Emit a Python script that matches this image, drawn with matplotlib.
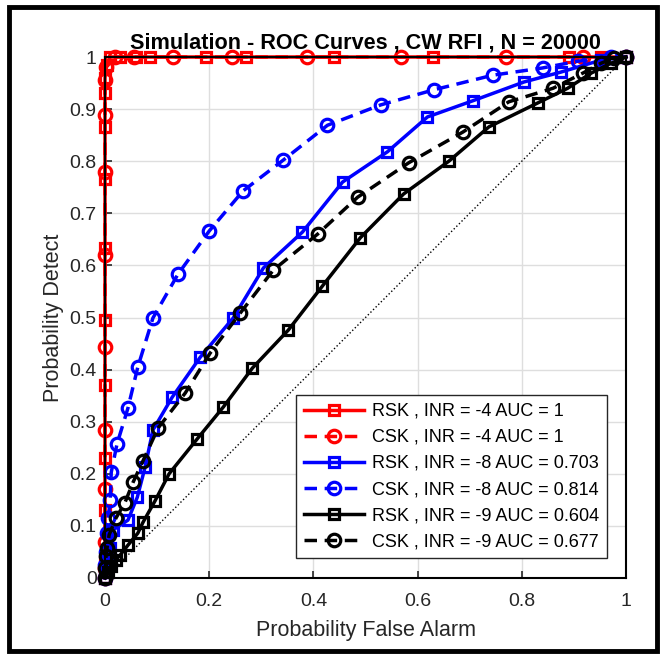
import matplotlib
matplotlib.use("Agg")
import matplotlib.pyplot as plt
from matplotlib.patches import Rectangle

plt.rcParams['font.family'] = ['Liberation Sans', 'DejaVu Sans']

title = "Simulation - ROC Curves , CW RFI , N = 20000"
xlabel = "Probability False Alarm"
ylabel = "Probability Detect"

labels = ["RSK , INR = -4 AUC = 1",
          "CSK , INR = -4 AUC = 1",
          "RSK , INR = -8 AUC = 0.703",
          "CSK , INR = -8 AUC = 0.814",
          "RSK , INR = -9 AUC = 0.604",
          "CSK , INR = -9 AUC = 0.677"]

# Red RSK (INR = -4)
rsk4_pfa = [0, 0, 0, 0, 0, 0, 0, 0, 0, 0, 0, 0.003, 0.01, 0.029, 0.06, 0.087, 0.194, 0.271, 0.44, 0.629, 0.89, 0.952, 1]
rsk4_pd  = [0, 0.03, 0.13, 0.23, 0.37, 0.495, 0.633, 0.765, 0.866, 0.93, 0.96, 0.985, 1, 1, 1, 1, 1, 1, 1, 1, 1, 1, 1]
# Red CSK (INR = -4)
csk4_pfa = [0, 0, 0, 0, 0, 0, 0, 0, 0, 0, 0.002, 0.02, 0.056, 0.131, 0.244, 0.388, 0.569, 0.769, 0.917, 1]
csk4_pd  = [0, 0.02, 0.07, 0.17, 0.284, 0.443, 0.62, 0.78, 0.889, 0.955, 0.98, 1, 1, 1, 1, 1, 1, 1, 1, 1]
# Blue RSK (INR = -8)
rsk8_pfa = [0, 0.002, 0.006, 0.01, 0.015, 0.044, 0.062, 0.077, 0.092, 0.129, 0.183, 0.246, 0.304, 0.379, 0.456, 0.542, 0.619, 0.706, 0.804, 0.875, 0.952, 1]
rsk8_pd  = [0, 0.012, 0.035, 0.058, 0.092, 0.111, 0.155, 0.213, 0.284, 0.347, 0.424, 0.499, 0.595, 0.664, 0.76, 0.818, 0.885, 0.916, 0.952, 0.971, 0.994, 1]
# Blue CSK (INR = -8)
csk8_pfa = [0, 0.0, 0.002, 0.004, 0.006, 0.01, 0.012, 0.023, 0.044, 0.063, 0.092, 0.14, 0.2, 0.265, 0.342, 0.427, 0.529, 0.631, 0.744, 0.84, 0.908, 0.971, 1]
csk8_pd  = [0, 0.025, 0.05, 0.086, 0.115, 0.15, 0.203, 0.257, 0.326, 0.405, 0.499, 0.583, 0.666, 0.743, 0.802, 0.869, 0.908, 0.937, 0.965, 0.979, 0.992, 1.0, 1]
# Black RSK (INR = -9)
rsk9_pfa = [0, 0.006, 0.012, 0.021, 0.029, 0.044, 0.063, 0.073, 0.096, 0.123, 0.177, 0.227, 0.283, 0.352, 0.417, 0.49, 0.573, 0.66, 0.737, 0.831, 0.888, 0.933, 0.971, 1]
rsk9_pd  = [0, 0.012, 0.023, 0.035, 0.044, 0.063, 0.086, 0.107, 0.148, 0.2, 0.267, 0.328, 0.403, 0.476, 0.56, 0.653, 0.737, 0.80, 0.866, 0.912, 0.94, 0.969, 0.988, 1]
# Black CSK (INR = -9)
csk9_pfa = [0, 0.0, 0.002, 0.004, 0.008, 0.021, 0.038, 0.054, 0.073, 0.102, 0.154, 0.202, 0.26, 0.323, 0.408, 0.485, 0.583, 0.687, 0.775, 0.86, 0.917, 0.952, 0.977, 1]
csk9_pd  = [0, 0.019, 0.042, 0.058, 0.083, 0.115, 0.144, 0.184, 0.225, 0.288, 0.355, 0.432, 0.509, 0.591, 0.66, 0.731, 0.797, 0.856, 0.914, 0.94, 0.969, 0.988, 0.998, 1]

W, H = 664, 657
fig = plt.figure(figsize=(W / 100, H / 100), dpi=100)
ax = fig.add_axes([105 / W, 1 - 578 / H, 521 / W, 521 / H])

lw = 2.5
mew = 2.3
dash = (3.6, 2.2)
series = [
    (rsk4_pfa, rsk4_pd, 'red', 's', '-'),
    (csk4_pfa, csk4_pd, 'red', 'o', '--'),
    (rsk8_pfa, rsk8_pd, 'blue', 's', '-'),
    (csk8_pfa, csk8_pd, 'blue', 'o', '--'),
    (rsk9_pfa, rsk9_pd, 'black', 's', '-'),
    (csk9_pfa, csk9_pd, 'black', 'o', '--'),
]
for (xv, yv, c, m, ls), lab in zip(series, labels):
    kw = dict(color=c, marker=m, linestyle=ls, lw=lw, mew=mew, mfc='none',
              ms=7.5 if m == 's' else 9, label=lab, clip_on=False)
    line, = ax.plot(xv, yv, **kw)
    if ls == '--':
        line.set_dashes(dash)

ax.plot([0, 1], [0, 1], linestyle=':', color='black', lw=1.0)

ax.set_xlim(0, 1)
ax.set_ylim(0, 1)
ax.set_xticks([0, 0.2, 0.4, 0.6, 0.8, 1])
ax.set_xticklabels(["0", "0.2", "0.4", "0.6", "0.8", "1"])
ax.set_yticks([i / 10 for i in range(11)])
ax.set_yticklabels(["0"] + ["0.%d" % i for i in range(1, 10)] + ["1"])
ax.tick_params(direction='in', length=5, width=1.2, labelsize=14, colors='#262626')
ax.tick_params(axis='x', pad=11)
ax.tick_params(axis='y', pad=6)
ax.grid(True, color='#dedede', lw=1.0)
ax.set_axisbelow(True)
for s in ax.spines.values():
    s.set_linewidth(1.5)
    s.set_color('black')

ax.set_xlabel(xlabel, fontsize=15.5, color='#262626', labelpad=7)
ax.set_ylabel(ylabel, fontsize=15.5, color='#262626', labelpad=4)
ax.set_title(title, fontsize=15.6, fontweight='bold', pad=6)

leg = ax.legend(loc='lower right', bbox_to_anchor=(0.9635, 0.038), borderaxespad=0,
                fontsize=13, fancybox=False, framealpha=1, edgecolor='#262626',
                handlelength=3.3, labelspacing=0.5, borderpad=0.45, handletextpad=0.45)
leg.get_frame().set_linewidth(1.0)

fig.patches.append(Rectangle((9 / W, 1 - 651 / H), 648 / W, 644 / H, transform=fig.transFigure,
                             fill=False, lw=3.5, ec='black', figure=fig))

fig.savefig("out.png", dpi=100)
